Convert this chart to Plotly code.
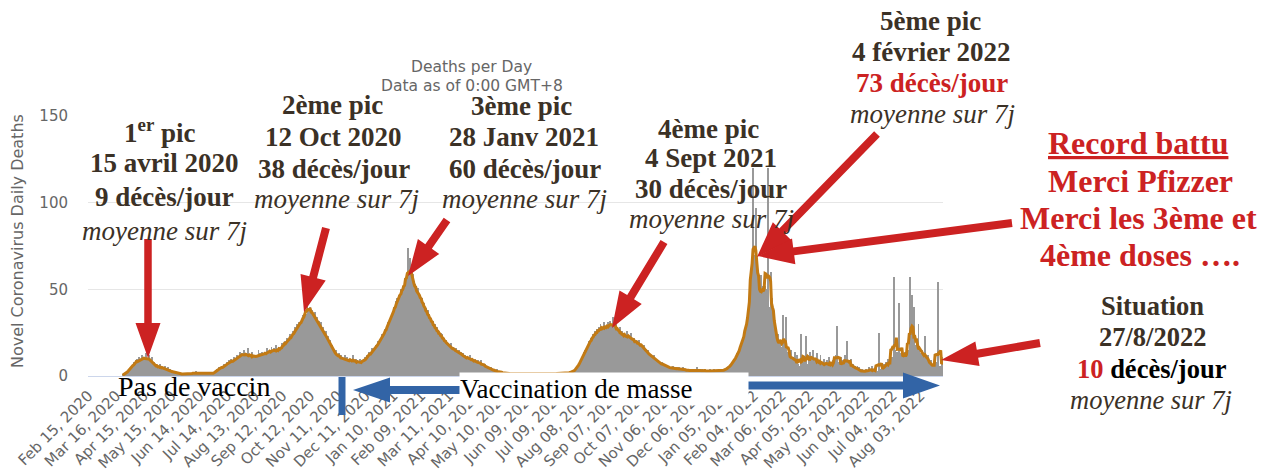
import math
import pandas as pd
import plotly.graph_objects as go

# ---------------- data ----------------
start_date = "2020-02-15"

daily_deaths = [
    0, 0, 0, 0, 0, 0, 0, 0, 0, 0,
    0, 0, 0, 0, 0, 0, 0, 0, 0, 0,
    0, 0, 0, 0, 0, 0, 0, 0, 0, 0,
    0, 0, 0, 0, 0, 0, 0, 1, 0, 1,
    1, 2, 3, 2, 4, 3, 5, 6, 4, 8,
    7, 9, 6, 10, 8, 11, 7, 9, 12, 8,
    11, 9, 13, 10, 8, 12, 9, 10, 7, 11,
    6, 8, 5, 7, 4, 6, 5, 7, 3, 6,
    4, 5, 3, 6, 4, 2, 5, 3, 4, 2,
    3, 2, 1, 3, 2, 1, 2, 1, 2, 1,
    1, 1, 2, 0, 1, 2, 1, 1, 0, 2,
    1, 2, 1, 2, 1, 1, 3, 1, 2, 1,
    2, 1, 1, 2, 1, 0, 2, 1, 1, 2,
    1, 1, 2, 1, 0, 2, 1, 3, 2, 4,
    3, 5, 4, 3, 6, 5, 4, 7, 5, 6,
    8, 6, 9, 7, 10, 8, 6, 11, 9, 8,
    10, 12, 9, 11, 14, 10, 13, 11, 15, 12,
    11, 13, 10, 16, 9, 12, 11, 14, 10, 12,
    10, 12, 11, 9, 15, 11, 13, 10, 14, 12,
    12, 14, 11, 16, 13, 12, 15, 13, 17, 14,
    13, 16, 12, 18, 14, 15, 13, 17, 14, 19,
    16, 18, 17, 20, 19, 22, 18, 21, 24, 20,
    23, 26, 22, 28, 25, 27, 30, 26, 31, 29,
    32, 30, 35, 33, 38, 36, 34, 45, 39, 37,
    40, 36, 38, 35, 33, 37, 31, 34, 30, 32,
    29, 27, 31, 25, 28, 24, 22, 26, 20, 23,
    19, 21, 17, 15, 18, 13, 14, 11, 15, 12,
    10, 13, 9, 12, 11, 8, 10, 9, 12, 8,
    11, 9, 7, 10, 8, 9, 12, 7, 8, 10,
    7, 9, 6, 8, 10, 7, 8, 9, 6, 11,
    9, 12, 10, 11, 14, 12, 13, 16, 12, 15,
    15, 18, 16, 20, 17, 19, 22, 21, 24, 22,
    24, 27, 25, 29, 31, 28, 33, 32, 36, 34,
    37, 40, 38, 43, 45, 41, 47, 44, 50, 48,
    52, 49, 55, 51, 57, 54, 74, 56, 68, 58,
    55, 59, 52, 53, 48, 50, 46, 51, 44, 47,
    43, 45, 40, 42, 37, 39, 35, 38, 33, 36,
    31, 33, 29, 32, 27, 30, 25, 28, 24, 26,
    23, 25, 21, 24, 20, 22, 18, 21, 17, 19,
    18, 16, 19, 15, 17, 14, 16, 13, 16, 14,
    13, 15, 12, 14, 11, 13, 10, 12, 11, 10,
    11, 9, 10, 12, 8, 10, 9, 8, 10, 7,
    8, 9, 7, 8, 6, 9, 7, 6, 5, 7,
    5, 6, 4, 5, 3, 5, 4, 3, 4, 3,
    3, 2, 4, 2, 3, 2, 1, 3, 2, 2,
    2, 1, 2, 1, 2, 1, 1, 2, 1, 1,
    1, 1, 2, 1, 0, 1, 1, 2, 1, 1,
    1, 0, 1, 1, 2, 1, 1, 0, 1, 1,
    2, 1, 1, 1, 0, 1, 2, 1, 1, 1,
    1, 1, 0, 2, 1, 1, 1, 2, 1, 0,
    1, 2, 1, 1, 1, 2, 1, 1, 2, 1,
    2, 1, 2, 1, 1, 2, 2, 1, 2, 2,
    2, 1, 3, 2, 2, 3, 4, 3, 4, 5,
    6, 7, 8, 10, 9, 12, 14, 15, 13, 17,
    18, 16, 20, 19, 22, 21, 24, 22, 26, 23,
    27, 24, 28, 25, 30, 26, 28, 27, 31, 25,
    29, 27, 31, 26, 32, 28, 30, 34, 27, 29,
    28, 31, 25, 27, 24, 28, 22, 26, 23, 25,
    21, 24, 22, 26, 20, 23, 22, 25, 19, 21,
    22, 18, 21, 20, 17, 19, 21, 16, 18, 17,
    16, 18, 14, 15, 13, 15, 12, 13, 11, 12,
    11, 10, 12, 9, 10, 8, 9, 7, 8, 7,
    8, 6, 7, 5, 7, 6, 4, 6, 5, 4,
    5, 4, 6, 3, 5, 4, 5, 3, 4, 5,
    4, 3, 4, 5, 3, 4, 3, 4, 2, 4,
    3, 4, 3, 2, 4, 3, 4, 3, 5, 3,
    3, 4, 2, 3, 4, 3, 2, 4, 3, 3,
    3, 2, 4, 3, 2, 3, 3, 4, 2, 3,
    3, 2, 3, 4, 3, 2, 4, 3, 3, 4,
    4, 5, 3, 6, 5, 7, 6, 8, 9, 10,
    11, 9, 13, 12, 15, 17, 16, 20, 22, 25,
    20, 26, 30, 38, 30, 40, 50, 48, 62, 120,
    65, 70, 97, 60, 50, 45, 55, 40, 58, 42,
    52, 48, 52, 50, 50, 120, 40, 35, 60, 48,
    45, 35, 30, 24, 22, 18, 24, 15, 20, 17,
    17, 35, 12, 15, 20, 34, 10, 14, 12, 9,
    15, 8, 11, 6, 14, 9, 5, 12, 7, 4,
    6, 24, 3, 8, 5, 10, 23, 4, 7, 12,
    9, 14, 6, 11, 15, 8, 10, 5, 13, 7,
    9, 6, 12, 4, 8, 5, 10, 7, 3, 9,
    6, 11, 4, 8, 5, 9, 3, 10, 6, 12,
    29, 5, 8, 4, 11, 6, 9, 3, 12, 7,
    5, 20, 6, 8, 4, 10, 3, 7, 5, 6,
    4, 3, 6, 2, 5, 3, 1, 4, 2, 3,
    2, 4, 1, 3, 5, 2, 4, 3, 6, 2,
    3, 2, 5, 3, 1, 25, 4, 2, 6, 3,
    4, 7, 3, 8, 5, 10, 6, 9, 4, 11,
    8, 57, 12, 15, 9, 14, 6, 42, 10, 13,
    16, 8, 11, 14, 7, 12, 18, 10, 15, 57,
    10, 47, 14, 40, 18, 11, 18, 11, 30, 16,
    13, 9, 15, 11, 8, 23, 10, 7, 12, 6,
    8, 5, 9, 7, 4, 6, 4, 8, 5, 54,
    4, 6, 6, 11, 8,
]

tick_labels = [
    "Feb 15, 2020", "Mar 16, 2020", "Apr 15, 2020", "May 15, 2020", "Jun 14, 2020",
    "Jul 14, 2020", "Aug 13, 2020", "Sep 12, 2020", "Oct 12, 2020", "Nov 11, 2020",
    "Dec 11, 2020", "Jan 10, 2021", "Feb 09, 2021", "Mar 11, 2021", "Apr 10, 2021",
    "May 10, 2021", "Jun 09, 2021", "Jul 09, 2021", "Aug 08, 2021", "Sep 07, 2021",
    "Oct 07, 2021", "Nov 06, 2021", "Dec 06, 2021", "Jan 05, 2022", "Feb 04, 2022",
    "Mar 06, 2022", "Apr 05, 2022", "May 05, 2022", "Jun 04, 2022", "Jul 04, 2022",
    "Aug 03, 2022",
]
y_ticks = [0, 50, 100, 150]

# ---------------- derived series ----------------
dates = pd.date_range(start_date, periods=len(daily_deaths), freq="D")
s = pd.Series(daily_deaths, index=dates, dtype=float)
avg7 = s.rolling(7, center=True, min_periods=1).mean()
avg7 = avg7.where(s.cumsum() > 0)
tick_vals = pd.to_datetime(tick_labels, format="%b %d, %Y")

# ---------------- geometry helpers (screen pixel -> paper) ----------------
# the page body adds an 8px margin, so the figure is drawn from (8, 8)
OFF = 8
WIN_W, WIN_H = 1265, 471
W, H = WIN_W - OFF, WIN_H - OFF
PL, PR, PT, PB = 88, 943, 116, 376   # plot area in screen pixels


def PX(x):
    return (x - PL) / (PR - PL)


def PY(y):
    return (PB - y) / (PB - PT)


SERIF = "Liberation Serif"
SANS = "DejaVu Sans"
BROWN = "#3b3126"
RED = "#cc2222"
BLUE = "#3264a6"
GREY = "#666666"

fig = go.Figure()
fig.add_trace(go.Bar(x=dates, y=s, marker=dict(color="#999999", line=dict(width=0)),
                     hoverinfo="skip"))
fig.add_trace(go.Scatter(x=dates, y=avg7, mode="lines",
                         line=dict(color="#c27a14", width=3), hoverinfo="skip"))

annotations = []


def txt(x, y, text, size=27, color=BROWN, family=SERIF, **kw):
    d = dict(x=PX(x), y=PY(y), xref="paper", yref="paper", text=text, showarrow=False,
             xanchor="center", yanchor="middle",
             font=dict(family=family, size=size, color=color))
    d.update(kw)
    annotations.append(d)


# chart title & axis title
txt(471, 67, "Deaths per Day", 15.5, GREY, SANS)
txt(472, 86, "Data as of 0:00 GMT+8", 15.5, GREY, SANS)
txt(17, 241, "Novel Coronavirus Daily Deaths", 16, GREY, SANS, textangle=-90)

# peak 1
txt(160, 131, "<b>1<sup>er</sup> pic</b>")
txt(164, 163, "<b>15 avril 2020</b>")
txt(164, 197, "<b>9 décès/jour</b>")
txt(164, 231, "<i>moyenne sur 7j</i>")
# peak 2
txt(332, 105, "<b>2ème pic</b>")
txt(333, 137, "<b>12 Oct 2020</b>")
txt(334, 169, "<b>38 décès/jour</b>")
txt(336, 199, "<i>moyenne sur 7j</i>")
# peak 3
txt(521, 106, "<b>3ème pic</b>")
txt(524, 137, "<b>28 Janv 2021</b>")
txt(525, 169, "<b>60 décès/jour</b>")
txt(524, 199, "<i>moyenne sur 7j</i>")
# peak 4
txt(708, 129, "<b>4ème pic</b>")
txt(711, 158, "<b>4 Sept 2021</b>")
txt(711, 189, "<b>30 décès/jour</b>")
txt(711, 219, "<i>moyenne sur 7j</i>")
# peak 5
txt(930, 21, "<b>5ème pic</b>")
txt(931, 52, "<b>4 février 2022</b>")
txt(932, 83, "<b>73 décès/jour</b>", color=RED)
txt(932, 114, "<i>moyenne sur 7j</i>")
# record
txt(1138, 143, "<b><u>Record battu</u></b>", 32, RED)
txt(1140, 181, "<b>Merci Pfizzer</b>", 32, RED)
txt(1138, 218, "<b>Merci les 3ème et</b>", 32, RED)
txt(1140, 255, "<b>4ème doses ….</b>", 32, RED)
# situation
txt(1152, 306, "<b>Situation</b>", 26.5)
txt(1152, 337, "<b>27/8/2022</b>", 26.5)
txt(1152, 369, "<b><span style='color:#cc2222'>10</span> "
               "<span style='color:#000000'>décès/jour</span></b>", 26.5)
txt(1151, 400, "<i>moyenne sur 7j</i>", 26.5)
# vaccine labels
txt(194, 386, "Pas de vaccin", 28, "#000000")
txt(604, 389, "Vaccination de masse", 27, "#000000", bgcolor="#ffffff",
    width=288, height=32, align="left", borderpad=0)

# ---------------- arrows as shapes ----------------
shapes = []


def arrow(x0, y0, x1, y1, color, w=8, hl=36, hw=26):
    dx, dy = x1 - x0, y1 - y0
    ln = math.hypot(dx, dy)
    ux, uy = dx / ln, dy / ln
    nx, ny = -uy, ux
    bx, by = x1 - ux * hl, y1 - uy * hl
    pts = [(x0 + nx * w / 2, y0 + ny * w / 2), (bx + nx * w / 2, by + ny * w / 2),
           (bx + nx * hw / 2, by + ny * hw / 2), (x1, y1),
           (bx - nx * hw / 2, by - ny * hw / 2), (bx - nx * w / 2, by - ny * w / 2),
           (x0 - nx * w / 2, y0 - ny * w / 2)]
    path = "M " + " L ".join(f"{PX(px):.5f},{PY(py):.5f}" for px, py in pts) + " Z"
    shapes.append(dict(type="path", path=path, xref="paper", yref="paper",
                       fillcolor=color, line=dict(width=0), layer="above"))


arrow(148, 239, 148, 358, RED, w=7.5, hl=35, hw=25)
arrow(326, 228, 304, 312, RED)
arrow(447, 220, 408, 276, RED)
arrow(664, 242, 612, 328, RED)
arrow(877, 134, 757, 257, RED)
arrow(1012, 223, 758, 256, RED)
arrow(1040, 343, 941, 360, RED, hl=37, hw=25)

# blue vaccination arrows
shapes.append(dict(type="line", xref="paper", yref="paper", x0=PX(342), x1=PX(342),
                   y0=PY(377), y1=PY(415), line=dict(color=BLUE, width=7), layer="above"))
arrow(470, 390, 353, 390, BLUE, w=8, hl=37, hw=25)
arrow(745, 385.5, 940, 385.5, BLUE, w=8, hl=37, hw=26)

fig.update_layout(
    width=W, height=H, autosize=False,
    margin=dict(l=PL - OFF, r=WIN_W - PR, t=PT - OFF, b=WIN_H - PB, pad=0,
                autoexpand=False),
    paper_bgcolor="#ffffff", plot_bgcolor="#ffffff",
    showlegend=False, bargap=0,
    annotations=annotations, shapes=shapes,
    xaxis=dict(
        type="date", automargin=False,
        range=[dates[0] - pd.Timedelta(hours=12), dates[-1] + pd.Timedelta(hours=12)],
        tickmode="array", tickvals=tick_vals, ticktext=tick_labels, tickangle=-45,
        tickfont=dict(family=SANS, size=15, color=GREY),
        showgrid=False, zeroline=False, showline=True, linecolor="#ccd6eb", linewidth=1,
        ticks="", ticklabelstandoff=4,
    ),
    yaxis=dict(
        automargin=False,
        range=[0, 150], tickmode="array", tickvals=y_ticks,
        tickfont=dict(family=SANS, size=15, color=GREY),
        showgrid=True, gridcolor="#e6e6e6", gridwidth=1, zeroline=False, showline=False,
        ticks="", ticklabelstandoff=19,
    ),
)

fig.write_html("out.html")
